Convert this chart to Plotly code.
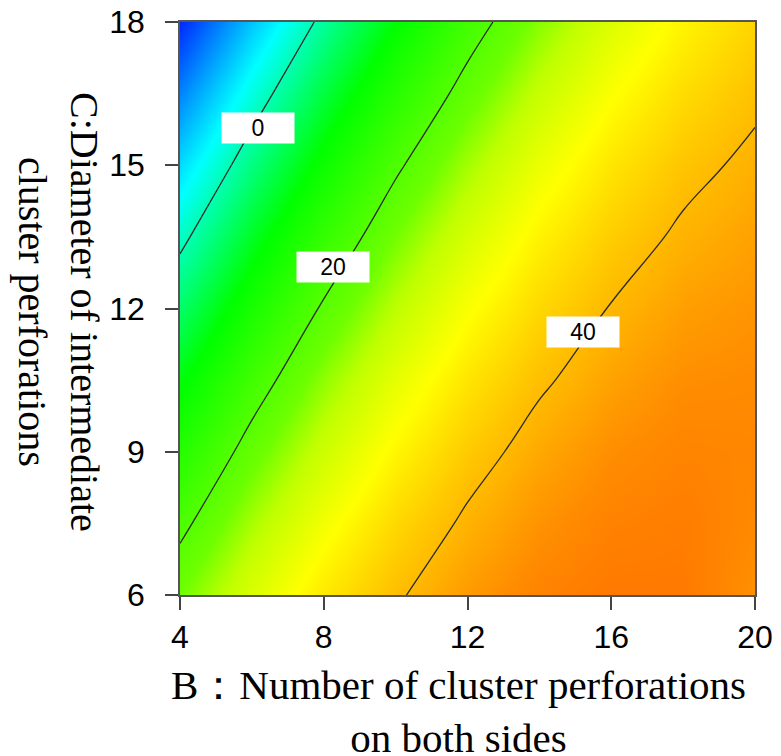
import plotly.graph_objects as go

# B: number of cluster perforations on both sides (x), C: diameter of intermediate cluster perforations (y)
b_values = [4, 6, 8, 10, 12, 14, 16, 18, 20]
c_values = [6, 7.5, 9, 10.5, 12, 13.5, 15, 16.5, 18]

# response values, one row per C value (bottom to top), one column per B value
z_c6 = [23.1, 29.7, 35.2, 39.5, 42.8, 45.0, 46.1, 46.0, 43.5]
z_c7_5 = [18.8, 25.9, 31.9, 36.9, 40.7, 43.4, 45.1, 45.6, 44.3]
z_c9 = [14.2, 21.9, 28.4, 33.9, 38.3, 41.6, 43.8, 44.9, 44.6]
z_c10_5 = [9.4, 17.6, 24.7, 30.7, 35.6, 39.4, 42.1, 43.8, 44.1]
z_c12 = [4.2, 12.9, 20.6, 27.1, 32.6, 36.9, 40.2, 42.4, 43.3]
z_c13_5 = [-1.3, 8.0, 16.2, 23.3, 29.3, 34.2, 38.0, 40.7, 42.2]
z_c15 = [-7.0, 2.8, 11.5, 19.2, 25.7, 31.2, 35.5, 38.8, 40.9]
z_c16_5 = [-13.0, -2.7, 6.6, 14.7, 21.8, 27.8, 32.7, 36.5, 39.2]
z_c18 = [-19.4, -8.5, 1.3, 10.0, 17.7, 24.2, 29.7, 34.0, 37.3]
z_rows = [z_c6, z_c7_5, z_c9, z_c10_5, z_c12, z_c13_5, z_c15, z_c16_5, z_c18]

contour_levels = [0, 20, 40]
label_texts = ["0", "20", "40"]
label_b = [6.17, 8.27, 15.2]
label_c = [15.78, 12.87, 11.51]

x_ticks = [4, 8, 12, 16, 20]
y_ticks = [6, 9, 12, 15, 18]

zmin, zmax = -19.4, 46.2
stops = [(-19.4, "rgb(0,40,255)"), (-4.5, "rgb(0,255,255)"), (10, "rgb(0,255,0)"),
         (23, "rgb(110,255,0)"), (27, "rgb(190,255,0)"), (33, "rgb(255,255,0)"),
         (37.5, "rgb(255,210,0)"), (41, "rgb(255,175,0)"), (44, "rgb(255,140,0)"),
         (46.2, "rgb(255,120,0)")]
colorscale = [[(v - zmin) / (zmax - zmin), c] for v, c in stops]

fig = go.Figure(go.Contour(
    x=b_values, y=c_values, z=z_rows,
    colorscale=colorscale, zmin=zmin, zmax=zmax, showscale=False,
    contours=dict(start=contour_levels[0], end=contour_levels[-1],
                  size=contour_levels[1] - contour_levels[0], coloring="heatmap"),
    line=dict(color="#2a2a2a", width=1.3, smoothing=1.3),
    hoverinfo="skip",
))

for t, bx, cy in zip(label_texts, label_b, label_c):
    fig.add_annotation(x=bx, y=cy, text=t, showarrow=False, bgcolor="white",
                       width=70, height=28, align="center",
                       font=dict(family="Arial, Liberation Sans", size=23, color="black"))

serif = "Liberation Serif, Times New Roman, serif"
fig.add_annotation(text="B：Number of cluster perforations<br>on both sides",
                   xref="paper", yref="paper", x=0.4835, y=-0.2025,
                   xanchor="center", yanchor="middle", showarrow=False,
                   font=dict(family=serif, size=41, color="black"))
fig.add_annotation(text="C:Diameter of intermediate<br>cluster perforations",
                   xref="paper", yref="paper", x=-0.2122, y=0.4939,
                   xanchor="center", yanchor="middle", showarrow=False, textangle=90,
                   font=dict(family=serif, size=40, color="black"))

fig.update_layout(width=781, height=756, margin=dict(l=180, r=26, t=22, b=161, autoexpand=False),
                  plot_bgcolor="white", paper_bgcolor="white", showlegend=False)
axis_style = dict(showline=True, mirror=True, linecolor="#555", linewidth=1.5,
                  ticks="outside", ticklen=13, tickwidth=2, tickcolor="#444",
                  showgrid=False, zeroline=False, automargin=False,
                  tickfont=dict(family="Arial, Liberation Sans", size=32, color="black"))
fig.update_xaxes(range=[4, 20], tickvals=x_ticks, **axis_style)
fig.update_yaxes(range=[6, 18], tickvals=y_ticks, ticklabelstandoff=14, **axis_style)
fig.write_html("out.html")
